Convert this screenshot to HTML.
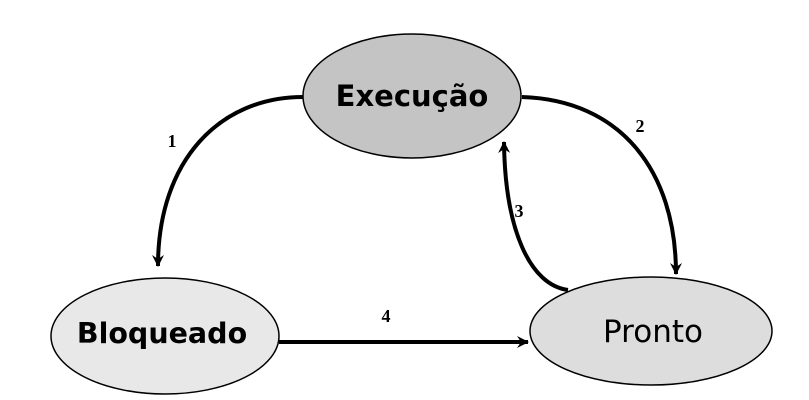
<!DOCTYPE html>
<html><head><meta charset="utf-8"><style>
html,body{margin:0;padding:0;background:#fff;}
svg{display:block;}
</style></head><body>
<svg width="809" height="400" viewBox="0 0 809 400" xmlns="http://www.w3.org/2000/svg">
<defs>
<marker id="a" markerWidth="14" markerHeight="14" refX="11" refY="6" orient="auto" markerUnits="userSpaceOnUse">
<path d="M0,0 L12,6 L0,12 L4,6 Z" fill="#000"/>
</marker>
</defs>
<g fill="none" stroke="#000" stroke-width="4">
<path d="M303,97 C220,97 158,160 158,266" marker-end="url(#a)"/>
<path d="M522,97 C620,100 676,170 676,274" marker-end="url(#a)"/>
<path d="M568,290 C530,285 505,230 504,142" marker-end="url(#a)"/>
<path d="M279,342 L528,342" marker-end="url(#a)"/>
</g>
<ellipse cx="412" cy="96" rx="109" ry="62" fill="#c4c4c4" stroke="#000" stroke-width="1.5"/>
<ellipse cx="651" cy="331" rx="121" ry="54" fill="#dddddd" stroke="#000" stroke-width="1.5"/>
<ellipse cx="165" cy="336" rx="114" ry="58" fill="#e8e8e8" stroke="#000" stroke-width="1.5"/>
<g font-family="DejaVu Sans, sans-serif" text-anchor="middle">
<text x="412" y="106" font-size="29" font-weight="bold">Execução</text>
<text x="162" y="343" font-size="28.5" font-weight="bold">Bloqueado</text>
<text x="653" y="342" font-size="31">Pronto</text>
</g>
<g font-family="Liberation Serif, serif" font-weight="bold" font-size="18" text-anchor="middle">
<text x="172" y="147">1</text>
<text x="640" y="132">2</text>
<text x="519" y="217">3</text>
<text x="386" y="322">4</text>
</g>
</svg>
</body></html>
